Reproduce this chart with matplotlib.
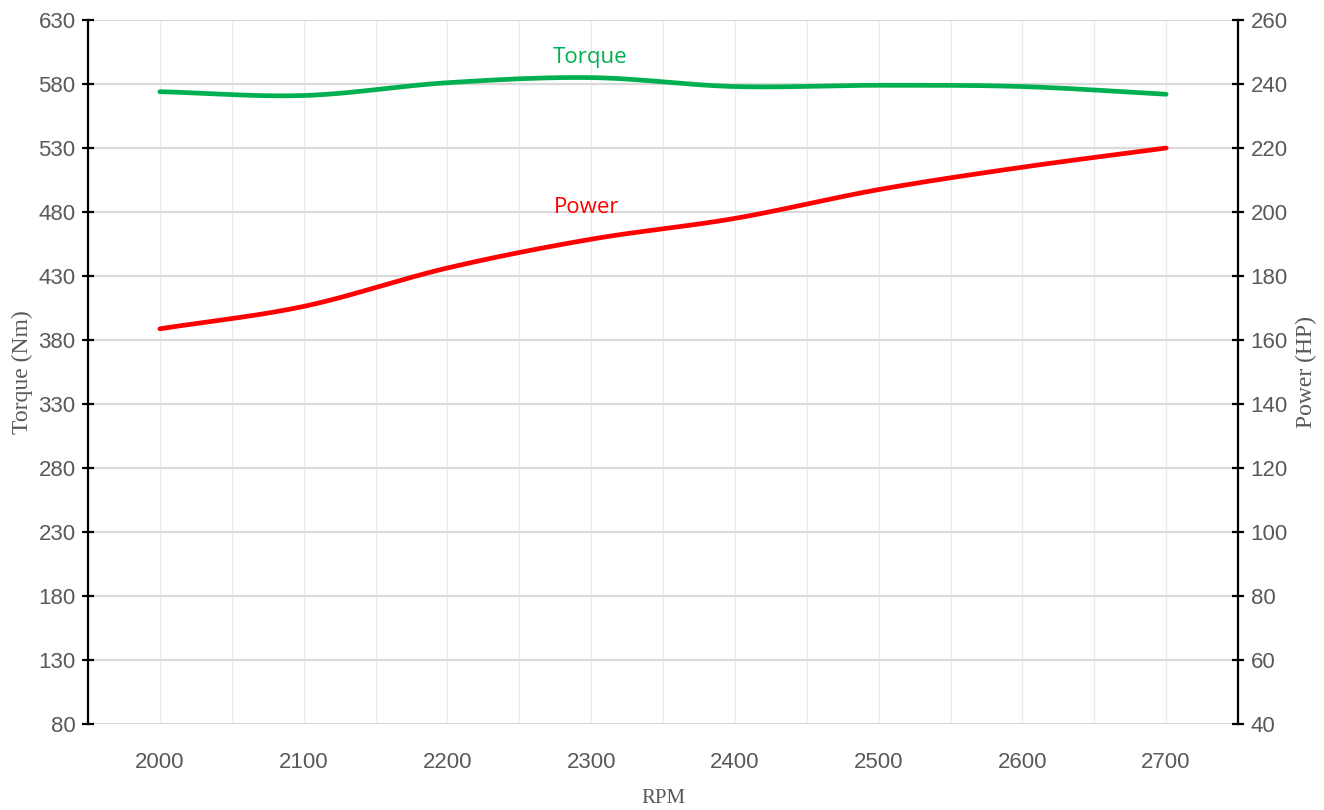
import numpy as np
import matplotlib.pyplot as plt
from matplotlib import font_manager

rpm = [2000, 2100, 2200, 2300, 2400, 2500, 2600, 2700]
torque = [574, 571, 581, 585, 578, 579, 578, 572]
power = [163.5, 170.5, 182.5, 191.5, 198, 207, 214, 220]

left_ticks = list(range(80, 631, 50))
right_ticks = list(range(40, 261, 20))
x_ticks = rpm

GREEN = '#00B050'
RED = '#FF0000'
GREY = '#595959'

installed = {f.name for f in font_manager.fontManager.ttflist}
if 'Liberation Sans Narrow' in installed:
    TICK_FONT = ['Liberation Sans Narrow', 'DejaVu Sans']
else:
    TICK_FONT = ['Liberation Sans', 'DejaVu Sans']
LABEL_FONT = ['Liberation Serif', 'DejaVu Serif']


def smooth(x, y, steps=30):
    # Catmull-Rom curve through the points, like Excel's smoothed line
    x = np.asarray(x, float)
    y = np.asarray(y, float)
    px = np.concatenate([[2 * x[0] - x[1]], x, [2 * x[-1] - x[-2]]])
    py = np.concatenate([[2 * y[0] - y[1]], y, [2 * y[-1] - y[-2]]])
    xs, ys = [], []
    t = np.linspace(0, 1, steps)
    for i in range(1, len(px) - 2):
        for p, out in ((px, xs), (py, ys)):
            p0, p1, p2, p3 = p[i - 1], p[i], p[i + 1], p[i + 2]
            out.extend(0.5 * (2 * p1 + (-p0 + p2) * t
                              + (2 * p0 - 5 * p1 + 4 * p2 - p3) * t ** 2
                              + (-p0 + 3 * p1 - 3 * p2 + p3) * t ** 3))
    return np.array(xs), np.array(ys)


fig = plt.figure(figsize=(13.24, 8.1), dpi=100)
ax = fig.add_axes([88 / 1324, 1 - 724 / 810, (1238 - 88) / 1324, (724 - 20) / 810])
ax2 = ax.twinx()

ax.set_xlim(1950, 2750)
ax.set_ylim(80, 630)
ax2.set_ylim(40, 260)

ax.set_xticks(x_ticks)
ax.set_xticks(np.arange(1950, 2751, 50), minor=True)
ax.set_yticks(left_ticks)
ax2.set_yticks(right_ticks)

ax.grid(axis='y', which='major', color='#d9d9d9', linewidth=1.6)
ax.grid(axis='x', which='both', color='#ebebeb', linewidth=1.0)
ax.set_axisbelow(True)

for a in (ax, ax2):
    for s in ('top', 'bottom'):
        a.spines[s].set_visible(False)
ax.spines['right'].set_visible(False)
ax2.spines['left'].set_visible(False)
ax.spines['left'].set_linewidth(1.6)
ax2.spines['right'].set_linewidth(1.6)

ax.tick_params(axis='x', which='both', length=0, pad=20, labelsize=16, labelcolor=GREY)
ax.tick_params(axis='y', direction='inout', length=8, width=1.6, pad=5,
               labelsize=16, labelcolor=GREY)
ax2.tick_params(axis='y', direction='inout', length=8, width=1.6, pad=5,
                labelsize=16, labelcolor=GREY)
for lab in ax.get_xticklabels() + ax.get_yticklabels() + ax2.get_yticklabels():
    lab.set_family(TICK_FONT)

sx, sy = smooth(rpm, torque)
ax.plot(sx, sy, color=GREEN, linewidth=3.4, solid_capstyle='round', zorder=3)
sx, sy = smooth(rpm, power)
ax2.plot(sx, sy, color=RED, linewidth=3.4, solid_capstyle='round', zorder=3)

ax.text(2299, 601, 'Torque', color=GREEN, fontsize=16, ha='center', va='center',
        family=['Open Sans', 'DejaVu Sans'])
ax2.text(2297, 201.5, 'Power', color=RED, fontsize=16, ha='center', va='center',
         family=['Open Sans', 'DejaVu Sans'])

ax.set_xlabel('RPM', color=GREY, fontsize=15, family=LABEL_FONT, labelpad=12)
ax.set_ylabel('Torque (Nm)', color=GREY, fontsize=17, family=LABEL_FONT, labelpad=4)
ax2.set_ylabel('Power (HP)', color=GREY, fontsize=17, family=LABEL_FONT,
               rotation=90, labelpad=6)

fig.savefig('out.png', dpi=100, facecolor='white')
